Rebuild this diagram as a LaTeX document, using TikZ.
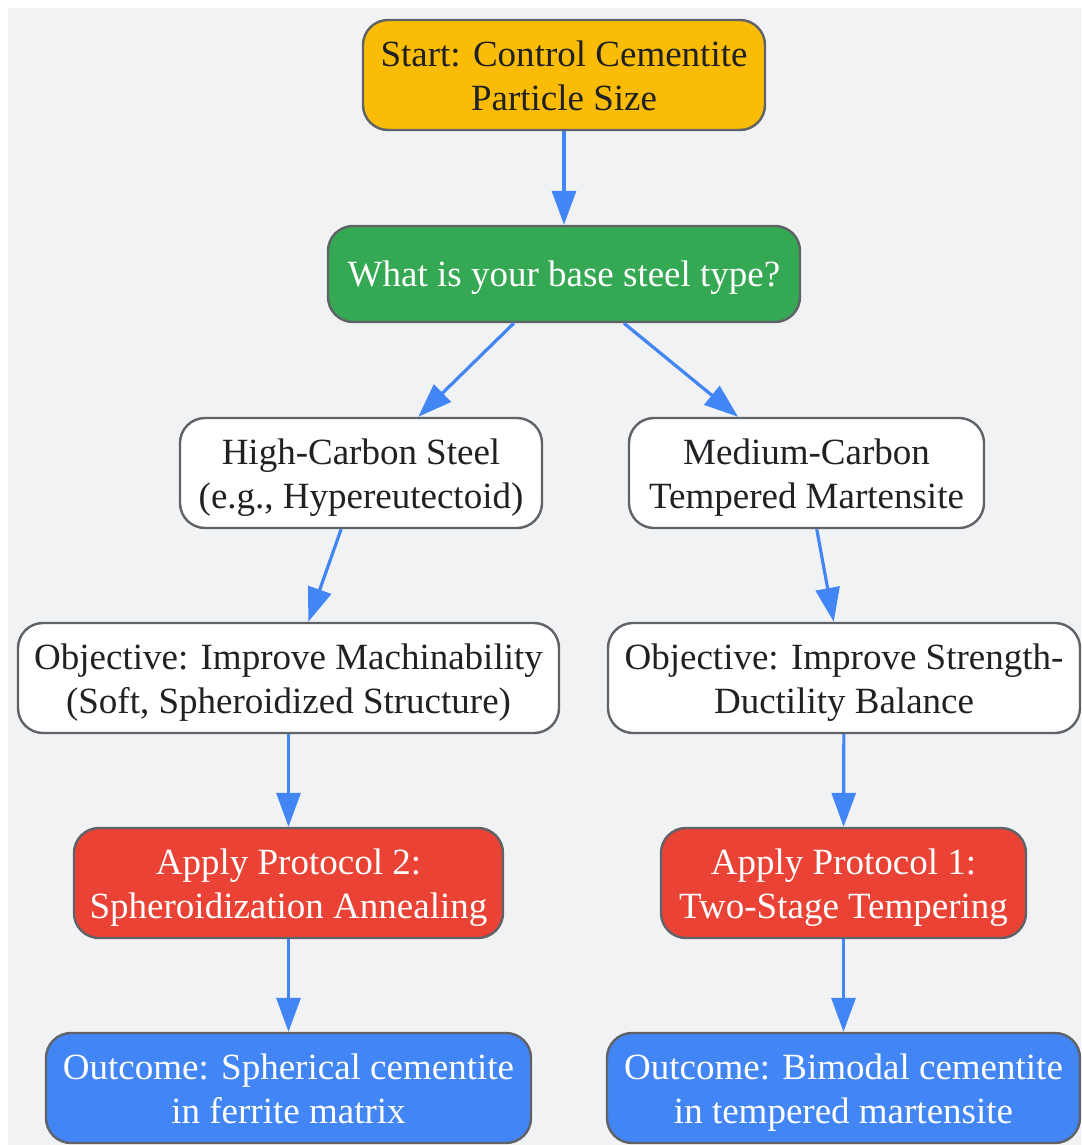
\documentclass[tikz,border=0pt]{standalone}
\usepackage{fontspec}
\setmainfont{Liberation Serif}
\usetikzlibrary{arrows.meta}
\tikzset{>={Triangle[length=17pt,width=12pt]}}

\definecolor{canvas}{HTML}{F1F2F4}
\definecolor{boxline}{HTML}{5F6368}
\definecolor{textdark}{HTML}{202124}
\definecolor{startyellow}{HTML}{FBBC05}
\definecolor{askgreen}{HTML}{34A853}
\definecolor{applyred}{HTML}{EA4335}
\definecolor{outblue}{HTML}{4285F4}
\definecolor{flowblue}{HTML}{4285F4}

\tikzset{
  box/.style={draw=boxline, line width=1.2pt, rounded corners=12.5pt,
    align=center, inner sep=0pt, minimum height=55pt,
    font=\fontsize{18.5}{22}\selectfont, text=textdark,
    execute at end node={\rule[-4pt]{0pt}{4pt}}},
  twolines/.style={box, execute at begin node={\rule{0pt}{39.6pt}}},
  startbox/.style={twolines, fill=startyellow},
  askbox/.style={box, fill=askgreen, text=white, minimum height=48pt,
    execute at begin node={\rule{0pt}{16.7pt}}},
  steelbox/.style={twolines, fill=white},
  applybox/.style={twolines, fill=applyred, text=white},
  outbox/.style={twolines, fill=outblue, text=white},
  flow/.style={->, draw=flowblue, line width=1.6pt},
}

\begin{document}
\begin{tikzpicture}[x=0.5pt, y=-0.5pt]
    % Fix the canvas.
    \useasboundingbox (0, 0) rectangle (1081, 1145);
    \fill[canvas] (8, 8) rectangle (1081, 1145);

    % Draw the start and the question.
    \node[startbox, minimum width=201pt] (start) at (564, 75) {Start: Control Cementite\\Particle Size};
    \node[askbox, minimum width=236pt] (ask) at (564, 274) {What is your base steel type?};

    % Draw the two steel types.
    \node[steelbox, minimum width=181pt] (high) at (361, 473) {High-Carbon Steel\\(e.g., Hypereutectoid)};
    \node[steelbox, minimum width=177.5pt] (medium) at (806.5, 473) {Medium-Carbon\\Tempered Martensite};

    % Draw the objectives.
    \node[steelbox, minimum width=270.5pt] (objhigh) at (288.5, 678) {Objective: Improve Machinability\\(Soft, Spheroidized Structure)};
    \node[steelbox, minimum width=236pt] (objmed) at (844, 678) {Objective: Improve Strength-\\Ductility Balance};

    % Draw the protocols.
    \node[applybox, minimum width=214.5pt] (proto2) at (288.5, 883) {Apply Protocol 2:\\Spheroidization Annealing};
    \node[applybox, minimum width=182.5pt] (proto1) at (843.5, 883) {Apply Protocol 1:\\Two-Stage Tempering};

    % Draw the outcomes.
    \node[outbox, minimum width=242.5pt] (outhigh) at (288.5, 1088) {Outcome: Spherical cementite\\in ferrite matrix};
    \node[outbox, minimum width=236.5pt] (outmed) at (843.5, 1088) {Outcome: Bimodal cementite\\in tempered martensite};

    % Connect everything.
    \draw[flow] (start) -- (ask);
    \draw[flow] (ask) -- (high);
    \draw[flow] (ask) -- (medium);
    \draw[flow] (high) -- (objhigh);
    \draw[flow] (medium) -- (objmed);
    \draw[flow] (objhigh) -- (proto2);
    \draw[flow] (objmed) -- (proto1);
    \draw[flow] (proto2) -- (outhigh);
    \draw[flow] (proto1) -- (outmed);
  \end{tikzpicture}
\end{document}
